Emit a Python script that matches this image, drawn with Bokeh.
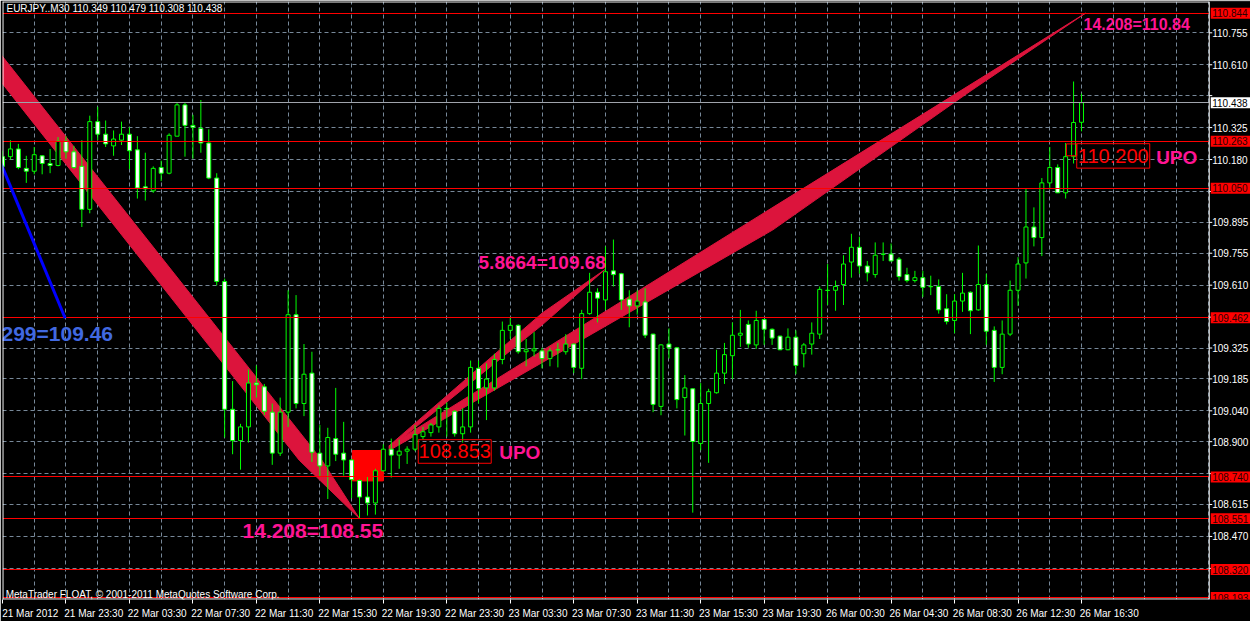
from bokeh.plotting import figure
from bokeh.models import ColumnDataSource, FixedTicker, Range1d
from bokeh.core.properties import value
from bokeh.embed import file_html
from bokeh.resources import INLINE

# ---------------- data ----------------
symbol_header = "EURJPY..M30  110.349 110.479 110.308 110.438"
copyright_text = "MetaTrader FLOAT, \u00a9 2001-2011 MetaQuotes Software Corp."

opens = [110.193, 110.193, 110.228, 110.140, 110.127, 110.197, 110.162, 110.153, 110.264, 110.215,
         110.149, 109.954, 110.352, 110.295, 110.242, 110.268, 110.295, 110.224, 110.056, 110.038,
         110.144, 110.118, 110.286, 110.428, 110.335, 110.321, 110.255, 110.096, 109.627, 109.047,
         108.905, 108.967, 109.166, 109.149, 109.034, 108.848, 109.034, 109.476, 109.073, 109.211,
         108.848, 108.790, 108.914, 108.848, 108.817, 108.724, 108.649, 108.622, 108.768, 108.866,
         108.839, 108.857, 108.866, 108.923, 108.941, 108.967, 109.051, 109.038, 108.936, 108.967,
         109.233, 109.144, 109.144, 109.273, 109.405, 109.428, 109.308, 109.312, 109.312, 109.277,
         109.317, 109.308, 109.343, 109.233, 109.481, 109.578, 109.543, 109.675, 109.662, 109.547,
         109.516, 109.534, 109.388, 109.060, 109.343, 109.326, 109.100, 109.140, 108.892, 109.073,
         109.122, 109.211, 109.290, 109.383, 109.432, 109.339, 109.454, 109.410, 109.379, 109.317,
         109.374, 109.299, 109.343, 109.388, 109.587, 109.587, 109.613, 109.715, 109.782, 109.697,
         109.658, 109.751, 109.751, 109.728, 109.658, 109.631, 109.644, 109.604, 109.604, 109.503,
         109.450, 109.538, 109.578, 109.498, 109.613, 109.405, 109.237, 109.388, 109.587, 109.711,
         109.874, 109.826, 110.074, 110.144, 110.029, 110.193, 110.349]
highs = [110.220, 110.268, 110.251, 110.197, 110.237, 110.199, 110.228, 110.282, 110.286, 110.242,
         110.268, 110.379, 110.419, 110.357, 110.312, 110.352, 110.326, 110.286, 110.211, 110.149,
         110.175, 110.299, 110.436, 110.436, 110.383, 110.450, 110.317, 110.118, 109.640, 109.175,
         108.981, 109.228, 109.246, 109.162, 109.073, 109.100, 109.587, 109.565, 109.343, 109.308,
         108.976, 108.963, 109.144, 108.990, 108.821, 108.728, 108.742, 108.777, 108.888, 108.914,
         108.910, 108.879, 108.976, 108.967, 108.985, 109.065, 109.078, 109.043, 109.051, 109.268,
         109.268, 109.255, 109.299, 109.445, 109.463, 109.432, 109.366, 109.397, 109.326, 109.326,
         109.348, 109.388, 109.345, 109.498, 109.666, 109.596, 109.786, 109.817, 109.666, 109.587,
         109.587, 109.596, 109.390, 109.343, 109.414, 109.330, 109.202, 109.142, 109.166, 109.140,
         109.317, 109.348, 109.441, 109.498, 109.450, 109.494, 109.456, 109.414, 109.381, 109.414,
         109.405, 109.348, 109.441, 109.604, 109.706, 109.631, 109.746, 109.843, 109.830, 109.720,
         109.804, 109.804, 109.799, 109.737, 109.689, 109.675, 109.675, 109.653, 109.636, 109.569,
         109.569, 109.666, 109.582, 109.790, 109.662, 109.423, 109.450, 109.631, 109.737, 110.047,
         109.963, 110.096, 110.237, 110.158, 110.255, 110.534, 110.479]
lows = [110.127, 110.180, 110.136, 110.074, 110.113, 110.113, 110.118, 110.149, 110.184, 110.136,
        109.874, 109.936, 110.268, 110.237, 110.197, 110.246, 110.136, 110.003, 109.994, 110.029,
        110.082, 110.113, 110.286, 110.193, 110.184, 110.211, 110.091, 109.609, 108.919, 108.843,
        108.773, 108.896, 109.100, 109.020, 108.795, 108.835, 108.967, 109.051, 109.016, 108.808,
        108.742, 108.640, 108.812, 108.746, 108.644, 108.551, 108.565, 108.569, 108.765, 108.737,
        108.777, 108.799, 108.857, 108.910, 108.923, 108.941, 108.923, 108.923, 108.896, 108.941,
        109.073, 108.998, 109.131, 109.251, 109.366, 109.299, 109.242, 109.286, 109.233, 109.242,
        109.237, 109.295, 109.211, 109.184, 109.476, 109.441, 109.498, 109.604, 109.498, 109.419,
        109.476, 109.370, 109.034, 109.020, 109.277, 109.051, 108.928, 108.578, 108.861, 108.804,
        109.118, 109.162, 109.184, 109.330, 109.326, 109.321, 109.339, 109.339, 109.315, 109.315,
        109.206, 109.237, 109.295, 109.366, 109.520, 109.494, 109.520, 109.644, 109.662, 109.627,
        109.644, 109.720, 109.718, 109.631, 109.622, 109.622, 109.556, 109.565, 109.481, 109.432,
        109.392, 109.489, 109.388, 109.494, 109.339, 109.171, 109.206, 109.379, 109.516, 109.640,
        109.786, 109.742, 110.047, 110.029, 110.003, 110.162, 110.308]
closes = [110.149, 110.228, 110.144, 110.127, 110.202, 110.162, 110.153, 110.264, 110.215, 110.144,
          109.954, 110.352, 110.295, 110.251, 110.273, 110.295, 110.220, 110.051, 110.047, 110.140,
          110.118, 110.290, 110.428, 110.335, 110.326, 110.255, 110.096, 109.627, 109.047, 108.905,
          108.967, 109.166, 109.158, 109.038, 108.848, 109.034, 109.476, 109.073, 109.206, 108.852,
          108.790, 108.919, 108.843, 108.817, 108.728, 108.649, 108.622, 108.768, 108.866, 108.839,
          108.857, 108.866, 108.932, 108.945, 108.976, 109.051, 109.049, 108.936, 108.967, 109.237,
          109.140, 109.184, 109.273, 109.405, 109.428, 109.308, 109.317, 109.321, 109.277, 109.312,
          109.316, 109.343, 109.237, 109.481, 109.578, 109.551, 109.671, 109.658, 109.543, 109.516,
          109.538, 109.383, 109.069, 109.339, 109.326, 109.091, 109.144, 108.901, 109.073, 109.127,
          109.211, 109.295, 109.383, 109.392, 109.343, 109.450, 109.410, 109.370, 109.317, 109.374,
          109.246, 109.339, 109.392, 109.591, 109.586, 109.604, 109.706, 109.782, 109.697, 109.666,
          109.746, 109.750, 109.720, 109.649, 109.631, 109.644, 109.600, 109.603, 109.498, 109.445,
          109.538, 109.574, 109.494, 109.613, 109.401, 109.237, 109.388, 109.587, 109.706, 109.874,
          109.826, 110.074, 110.144, 110.029, 110.193, 110.348, 110.438]

time_tick_bars = [0, 8, 16, 24, 32, 40, 48, 56, 64, 72, 80, 88, 96, 104, 112, 120, 128, 136]
time_tick_labels = ["21 Mar 2012", "21 Mar 23:30", "22 Mar 03:30", "22 Mar 07:30", "22 Mar 11:30",
                    "22 Mar 15:30", "22 Mar 19:30", "22 Mar 23:30", "23 Mar 03:30", "23 Mar 07:30",
                    "23 Mar 11:30", "23 Mar 15:30", "23 Mar 19:30", "26 Mar 00:30", "26 Mar 04:30",
                    "26 Mar 08:30", "26 Mar 12:30", "26 Mar 16:30"]
grid_bars = [4, 8, 12, 16, 20, 24, 28, 32, 36, 40, 44, 48, 52, 56, 60, 64, 68, 72, 76, 80, 84, 88,
             92, 96, 100, 104, 108, 112, 116, 120, 124, 128, 132, 136, 140, 144, 148, 152]

price_ticks = [110.755, 110.610, 110.470, 110.325, 110.180, 110.035, 109.895, 109.755, 109.610,
               109.465, 109.325, 109.185, 109.040, 108.900, 108.755, 108.615, 108.470, 108.325]
# tick labels that are not covered by the coloured price labels
price_tick_shown = [110.755, 110.610, 110.325, 110.180, 109.895, 109.755, 109.610,
                    109.325, 109.185, 109.040, 108.900, 108.615, 108.470]

level_prices = [110.844, 110.263, 110.050, 109.462, 108.740, 108.551, 108.320, 108.193]
bid_price = 110.438

# drawn objects (bar index, price)
fan_down_x = [-0.4, 40.25, 45.0, 37.4, -0.4]
fan_down_y = [110.666, 108.816, 108.551, 108.816, 110.542]
fan_up_big_x = [48.75, 136.5, 122.1, 97.1, 48.75]
fan_up_big_y = [108.882, 110.844, 110.493, 109.861, 108.860]
fan_up_small_x = [48.75, 68.0, 75.9, 68.0, 48.75]
fan_up_small_y = [108.882, 109.483, 109.680, 109.429, 108.869]
blue_line_x = [-0.4, 7.9]
blue_line_y = [110.180, 109.460]

red_rect = dict(left=44.1, right=48.0, top=108.860, bottom=108.722)
small_rect = dict(left=134.1, right=135.4, top=110.251, bottom=110.197)

box_texts = ["108.853", "110.200"]
box_left = [52.4, 135.4]
box_right = [61.6, 144.6]
box_top = [108.909, 110.252]
box_bottom = [108.802, 110.141]
box_text_x = [57.0, 140.0]
box_text_y = [108.856, 110.196]

upo_x = [65.2, 148.0]
upo_y = [108.849, 110.188]

fan_label_texts = ["14.208=110.84", "5.8664=109.68", "14.208=108.55"]
fan_label_x = [136.25, 60.0, 30.25]
fan_label_y = [110.793, 109.714, 108.497]
fan_label_size = ["16px", "19px", "21px"]

blue_label_text = "299=109.46"
blue_label_x = -0.125
blue_label_y = 109.392

# ---------------- layout / styling ----------------
LIME = "#00FF00"
GRID = "#778899"
CRIMSON = "#DC143C"
PINK = "#FF1493"

chart_end = 152.1          # right border of the candle area (in bars)
strip = 5.2                # width of the price scale strip (in bars)
x_end = chart_end + strip
y_lo, y_hi = 108.184, 110.897

p = figure(width=1250, height=621, output_backend="svg", toolbar_location=None,
           x_range=Range1d(0, x_end), y_range=Range1d(y_lo, y_hi),
           y_axis_location=None, min_border_left=2, min_border_top=1,
           min_border_right=0, min_border_bottom=0)
p.background_fill_color = "black"
p.border_fill_color = "black"
p.outline_line_color = None

# time axis: labels start at their tick, as in the terminal
label_centres = [b + 3.5 for b in time_tick_bars]
p.xaxis.ticker = FixedTicker(ticks=label_centres, minor_ticks=time_tick_bars)
p.xaxis.major_label_overrides = {c: t for c, t in zip(label_centres, time_tick_labels)}
ax = p.xaxis[0]
ax.axis_line_color = None
ax.major_tick_line_color = None
ax.minor_tick_line_color = "white"
ax.minor_tick_in = 0
ax.minor_tick_out = 4
ax.major_tick_in = 0
ax.major_tick_out = 0
ax.major_label_text_color = "white"
ax.major_label_text_font = "Liberation Sans"
ax.major_label_text_font_size = "10px"
ax.major_label_standoff = 4

p.xgrid.ticker = FixedTicker(ticks=grid_bars)
p.ygrid.ticker = FixedTicker(ticks=price_ticks)
for g in (p.xgrid[0], p.ygrid[0]):
    g.grid_line_color = GRID
    g.grid_line_dash = "4 3"
    g.grid_line_width = 1

# filled drawing objects (behind candles)
p.patch(fan_down_x, fan_down_y, fill_color=CRIMSON, line_color=CRIMSON, line_width=1)
p.patch(fan_up_big_x, fan_up_big_y, fill_color=CRIMSON, line_color=CRIMSON, line_width=1)
p.patch(fan_up_small_x, fan_up_small_y, fill_color=CRIMSON, line_color=CRIMSON, line_width=1)
p.quad(left=[red_rect["left"]], right=[red_rect["right"]], top=[red_rect["top"]],
       bottom=[red_rect["bottom"]], fill_color="#FF0000", line_color="#FF0000")

# candles
bar_index = list(range(len(opens)))
body_top = [max(o, c) for o, c in zip(opens, closes)]
body_bot = [min(o, c) for o, c in zip(opens, closes)]
body_fill = ["white" if c < o else "black" for o, c in zip(opens, closes)]
src = ColumnDataSource(dict(x=bar_index, o=opens, h=highs, l=lows, c=closes,
                            top=body_top, bot=body_bot, fill=body_fill))
p.segment(x0="x", y0="l", x1="x", y1="h", source=src, line_color=LIME, line_width=1)
p.vbar(x="x", width=0.5, top="top", bottom="bot", source=src, fill_color="fill",
       line_color=LIME, line_width=1)

# horizontal lines
p.hspan(y=level_prices, line_color="#FF0000", line_width=1)
p.hspan(y=[bid_price], line_color="#A0A4AC", line_width=1)

# blue trend line
p.line(blue_line_x, blue_line_y, line_color="#0000FF", line_width=3)

# price boxes and texts
p.quad(left=box_left, right=box_right, top=box_top, bottom=box_bottom,
       fill_color=None, line_color="#FF0000", line_width=1)
p.quad(left=[small_rect["left"]], right=[small_rect["right"]], top=[small_rect["top"]],
       bottom=[small_rect["bottom"]], fill_color=None, line_color="#FF0000", line_width=1)
p.text(x=box_text_x, y=box_text_y, text=box_texts, text_color="#FF0000",
       text_font=value("Liberation Sans"), text_font_size="20px",
       text_align="center", text_baseline="middle")
p.text(x=upo_x, y=upo_y, text=["UPO", "UPO"], text_color=PINK,
       text_font=value("Liberation Sans"), text_font_style="bold",
       text_font_size="19px", text_align="center", text_baseline="middle")

fl_src = ColumnDataSource(dict(x=fan_label_x, y=fan_label_y, t=fan_label_texts, s=fan_label_size))
p.text(x="x", y="y", text="t", text_font_size="s", source=fl_src, text_color=PINK,
       text_font=value("Liberation Sans"), text_font_style="bold",
       text_align="left", text_baseline="middle")
p.text(x=[blue_label_x], y=[blue_label_y], text=[blue_label_text], text_color="#4169E1",
       text_font=value("Liberation Sans"), text_font_style="bold", text_font_size="21px",
       text_align="left", text_baseline="middle")

# header and copyright
p.text(x=[0.5], y=[110.888], text=[symbol_header], text_color="white",
       text_font=value("Liberation Sans"), text_font_size="10px",
       text_align="left", text_baseline="top")
p.text(x=[0.4], y=[108.206], text=[copyright_text], text_color="white",
       text_font=value("Liberation Sans"), text_font_size="10px",
       text_align="left", text_baseline="alphabetic")

# ---------------- price scale strip on the right ----------------
px_x = x_end / 1248.0        # one pixel in bar units
px_y = (y_hi - y_lo) / 602.0  # one pixel in price units
p.quad(left=[chart_end], right=[x_end + 1], bottom=[y_lo - 1], top=[y_hi + 1],
       fill_color="black", line_color=None)

# chart borders
p.segment(x0=[0.5 * px_x, 0, 0, chart_end], y0=[y_lo, y_hi - 0.5 * px_y, y_lo + 0.5 * px_y, y_lo],
          x1=[0.5 * px_x, chart_end, chart_end, chart_end], y1=[y_hi, y_hi - 0.5 * px_y, y_lo + 0.5 * px_y, y_hi],
          line_color="white", line_width=1)

# tick marks and tick labels of the price scale
label_x = chart_end + 3 * px_x
p.segment(x0=[chart_end] * len(price_ticks), x1=[chart_end + 3 * px_x] * len(price_ticks),
          y0=price_ticks, y1=price_ticks, line_color="white", line_width=1)
p.text(x=[label_x] * len(price_tick_shown), y=price_tick_shown,
       text=["%.3f" % v for v in price_tick_shown], text_color="white",
       text_font=value("Liberation Sans"), text_font_size="10px",
       text_align="left", text_baseline="middle")

# coloured price labels of the horizontal lines and of the bid line
half_h = 5.5 * px_y
p.quad(left=[chart_end + 1.5 * px_x] * len(level_prices), right=[x_end + 1] * len(level_prices),
       bottom=[v - half_h for v in level_prices], top=[v + half_h for v in level_prices],
       fill_color="#FF0000", line_color=None)
p.text(x=[label_x] * len(level_prices), y=level_prices,
       text=["%.3f" % v for v in level_prices], text_color="#2a0000",
       text_font=value("Liberation Sans"), text_font_size="10px",
       text_align="left", text_baseline="middle")
p.quad(left=[chart_end + 1.5 * px_x], right=[x_end + 1],
       bottom=[bid_price - half_h], top=[bid_price + half_h],
       fill_color="white", line_color=None)
p.text(x=[label_x], y=[bid_price], text=["%.3f" % bid_price], text_color="black",
       text_font=value("Liberation Sans"), text_font_size="10px",
       text_align="left", text_baseline="middle")

open("out.html", "w").write(file_html(p, INLINE))
